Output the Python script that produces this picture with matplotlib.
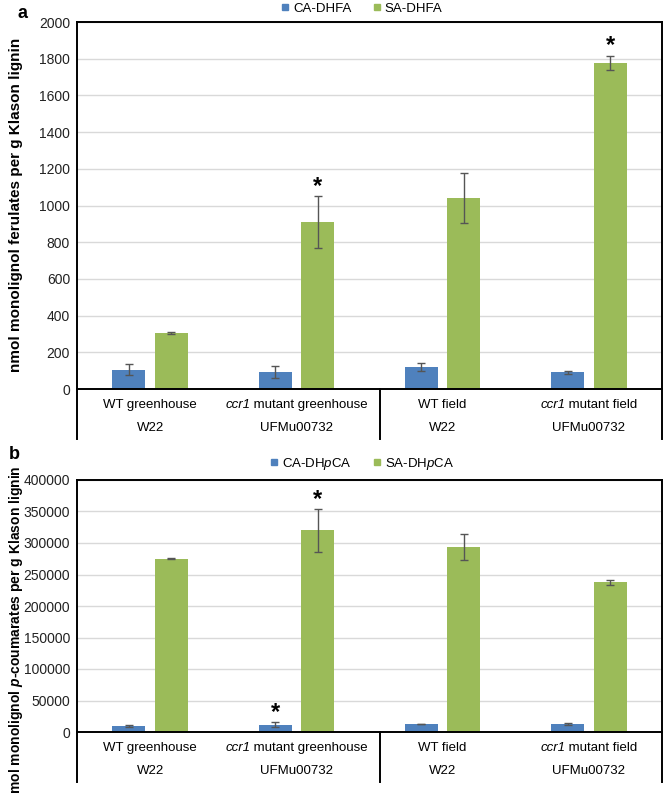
import matplotlib as mpl
mpl.use('Agg')
import matplotlib.pyplot as plt
from matplotlib.lines import Line2D
from matplotlib.offsetbox import TextArea, HPacker, AnnotationBbox
import numpy as np

plt.rcParams['font.family'] = ['Liberation Sans', 'DejaVu Sans']
plt.rcParams['mathtext.fontset'] = 'custom'
plt.rcParams['mathtext.rm'] = 'Liberation Sans'
plt.rcParams['mathtext.it'] = 'Liberation Sans:italic'
plt.rcParams['mathtext.bf'] = 'Liberation Sans:bold'
try:
    plt.rcParams['mathtext.bfit'] = 'Liberation Sans:bold:italic'
    bold_p = r'$\mathbfit{p}$'
except KeyError:
    bold_p = r'$\mathit{p}$'

# (italic part, plain part) for each group
groups = [('', 'WT greenhouse'), ('ccr1', ' mutant greenhouse'), ('', 'WT field'), ('ccr1', ' mutant field')]
lines2 = ['W22', 'UFMu00732', 'W22', 'UFMu00732']

# panel a - ferulates
fa_ca = [105, 93, 118, 91]
fa_ca_err = [30, 32, 21, 8]
fa_sa = [305, 908, 1039, 1777]
fa_sa_err = [5, 142, 137, 40]
fa_ca_star = [False, False, False, False]
fa_sa_star = [False, True, False, True]

# panel b - p-coumarates
pc_ca = [9500, 11500, 12500, 12800]
pc_ca_err = [1500, 4000, 500, 1000]
pc_sa = [275000, 320000, 293500, 238000]
pc_sa_err = [1000, 33500, 20000, 4000]
pc_ca_star = [False, True, False, False]
pc_sa_star = [False, True, False, False]

blue = '#4F81BD'
green = '#9BBB59'
W, H = 664, 793

fig = plt.figure(figsize=(W / 100, H / 100), dpi=100)


def make_panel(top, bottom, ca, ca_err, sa, sa_err, ca_star, sa_star,
               ymax, ystep, ylabel, ylab_y, ylab_fs, series, letter, letter_xy, leg_y):
    ax = fig.add_axes([77 / W, 1 - bottom / H, (662 - 77) / W, (bottom - top) / H])
    x = np.arange(len(groups))
    off, bw = 0.145, 0.225
    ax.bar(x - off, ca, bw, color=blue, zorder=2)
    ax.bar(x + off, sa, bw, color=green, zorder=2)
    ax.errorbar(x - off, ca, yerr=ca_err, fmt='none', ecolor='#555555',
                elinewidth=1, capsize=3, capthick=1, zorder=3)
    ax.errorbar(x + off, sa, yerr=sa_err, fmt='none', ecolor='#555555',
                elinewidth=1, capsize=3, capthick=1, zorder=3)
    for xs, vals, errs, stars in [(x - off, ca, ca_err, ca_star), (x + off, sa, sa_err, sa_star)]:
        for xi, v, e, s in zip(xs, vals, errs, stars):
            if s:
                ax.annotate('*', xy=(xi, v + e), xytext=(0, -1), textcoords='offset points',
                            ha='center', va='bottom', fontsize=17, fontweight='bold')
    ax.set_xlim(-0.5, len(groups) - 0.5)
    ax.set_ylim(0, ymax)
    ax.set_yticks(np.arange(0, ymax + 1, ystep))
    ax.yaxis.grid(True, color='#D9D9D9', linewidth=1, zorder=0)
    ax.set_axisbelow(True)
    ax.tick_params(axis='y', length=0, labelsize=10, pad=5, labelcolor='#222222')
    ax.set_xticks([])
    for sp in ax.spines.values():
        sp.set_color('black')
        sp.set_linewidth(1.4)
    # category labels, two levels
    for i, (it, rest) in enumerate(groups):
        parts = []
        if it:
            parts.append(TextArea(it, textprops=dict(fontsize=9.5, style='italic')))
        parts.append(TextArea(rest, textprops=dict(fontsize=9.5)))
        box = HPacker(children=parts, pad=0, sep=0, align='baseline')
        ab = AnnotationBbox(box, (i, 0), xycoords=('data', 'axes fraction'),
                            xybox=(0, -11.5), boxcoords='offset points',
                            frameon=False, box_alignment=(0.5, 0.5), pad=0)
        ax.add_artist(ab)
        ax.annotate(lines2[i], xy=(i, 0), xycoords=('data', 'axes fraction'),
                    xytext=(0, -28), textcoords='offset points',
                    ha='center', va='center', fontsize=9.5)
    hpx = bottom - top
    for xf in [0, (380 - 77) / (662 - 77), 1]:
        ax.add_line(Line2D([xf, xf], [0, -50 / hpx], transform=ax.transAxes,
                           color='black', linewidth=1.4, clip_on=False))
    fig.text(16 / W, 1 - ylab_y / H, ylabel, rotation=90, fontsize=ylab_fs,
             fontweight='bold', ha='center', va='center')
    handles = [Line2D([], [], marker='s', color=blue, linestyle='None', markersize=4),
               Line2D([], [], marker='s', color=green, linestyle='None', markersize=4)]
    fig.legend(handles, series, loc='center', bbox_to_anchor=(362 / W, 1 - leg_y / H),
               ncol=2, frameon=False, fontsize=9.5, handlelength=0.6,
               handletextpad=0.3, columnspacing=1.6)
    fig.text(letter_xy[0] / W, 1 - letter_xy[1] / H, letter, fontsize=13,
             fontweight='bold', ha='center', va='center')
    return ax


make_panel(22, 389, fa_ca, fa_ca_err, fa_sa, fa_sa_err, fa_ca_star, fa_sa_star,
           2000, 200, 'nmol monolignol ferulates per g Klason lignin', 205, 11,
           ['CA-DHFA', 'SA-DHFA'], 'a', (22, 14), 9)
make_panel(480, 732, pc_ca, pc_ca_err, pc_sa, pc_sa_err, pc_ca_star, pc_sa_star,
           400000, 50000, 'nmol monolignol ' + bold_p + '-coumarates per g Klason lignin', 634, 10,
           [r'CA-DH$\mathit{p}$CA', r'SA-DH$\mathit{p}$CA'], 'b', (14, 454), 464)

fig.savefig('out.png', dpi=100)
